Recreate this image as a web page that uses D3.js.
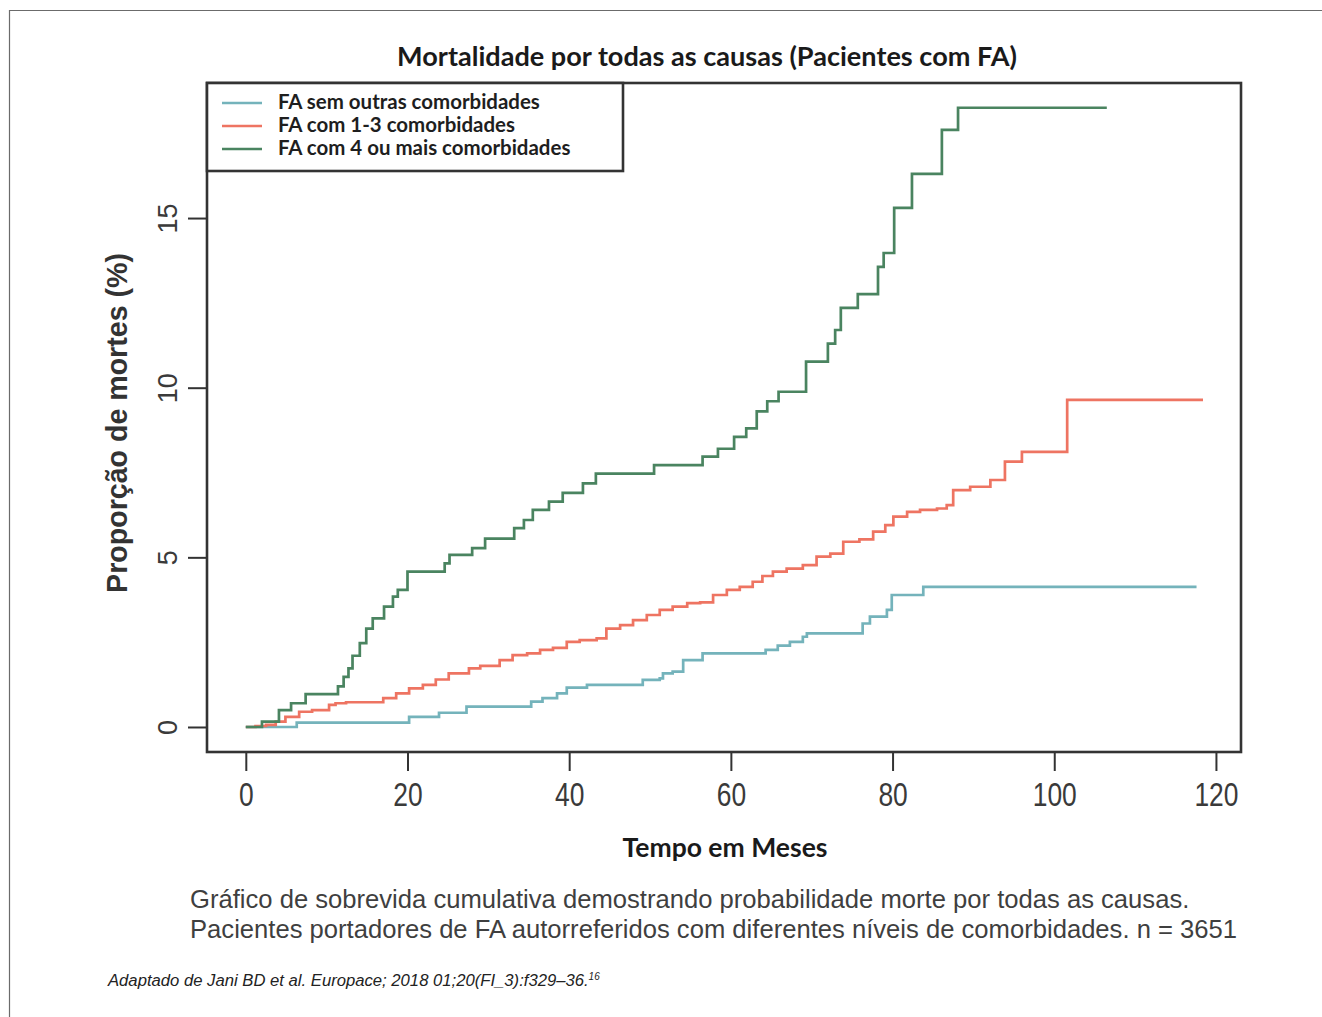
<!DOCTYPE html>
<html lang="pt">
<head>
<meta charset="UTF-8">
<title>Mortalidade por todas as causas</title>
<script src="https://d3js.org/d3.v7.min.js"></script>
<style>
  body { margin: 0; background: #fff; }
  svg { display: block; }
</style>
</head>
<body>
<svg id="chart"></svg>
<script>
  // tick values
  const xTicks = [0, 20, 40, 60, 80, 100, 120];
  const yTicks = [0, 5, 10, 15];

  // legend / series names
  const seriesNames = ["FA sem outras comorbidades", "FA com 1-3 comorbidades", "FA com 4 ou mais comorbidades"];

  // cumulative deaths (%), step function: value holds from that month on
  const blueTime  = [0, 6.3, 20.2, 23.9, 27.3, 35.3, 36.7, 38.5, 39.7, 42.2, 49.1, 51.2, 51.6, 52.8, 54.1, 56.5, 64.3, 65.8, 67.3, 68.9, 69.4, 76.3, 77.2, 79.3, 79.9, 83.8, 117.6];
  const blueValue = [0, 0.13, 0.3, 0.42, 0.6, 0.75, 0.85, 0.99, 1.16, 1.24, 1.39, 1.43, 1.58, 1.63, 1.97, 2.17, 2.27, 2.4, 2.51, 2.66, 2.76, 3.05, 3.25, 3.45, 3.89, 4.13, 4.13];

  const redTime  = [0, 1.2, 2.5, 3.7, 4.9, 6.6, 8.2, 10.3, 11.1, 12.4, 17.0, 18.6, 20.2, 21.9, 23.5, 25.1, 27.6, 29.0, 31.4, 33.0, 34.8, 36.4, 38.0, 39.7, 41.3, 43.4, 44.6, 46.3, 47.9, 49.6, 51.2, 52.8, 54.6, 56.2, 57.8, 59.5, 61.1, 62.7, 63.9, 65.2, 66.9, 68.9, 70.6, 72.3, 73.9, 75.9, 77.6, 79.1, 80.1, 81.8, 83.4, 85.5, 86.7, 87.5, 89.6, 92.1, 93.9, 96.0, 101.6, 118.4];
  const redValue = [0, 0.03, 0.06, 0.16, 0.3, 0.45, 0.5, 0.65, 0.7, 0.73, 0.85, 0.99, 1.14, 1.24, 1.4, 1.58, 1.73, 1.8, 1.97, 2.12, 2.17, 2.27, 2.33, 2.51, 2.56, 2.61, 2.9, 3.0, 3.15, 3.3, 3.45, 3.55, 3.65, 3.67, 3.89, 4.04, 4.13, 4.28, 4.45, 4.58, 4.67, 4.77, 5.02, 5.11, 5.46, 5.53, 5.76, 5.95, 6.2, 6.34, 6.4, 6.44, 6.54, 6.98, 7.08, 7.28, 7.82, 8.11, 9.64, 9.64];

  const greenTime  = [0, 2.0, 4.1, 5.6, 7.4, 11.4, 12.1, 12.7, 13.2, 14.1, 14.9, 15.7, 17.1, 18.2, 18.8, 20.0, 24.6, 25.2, 28.0, 29.6, 33.2, 34.4, 35.5, 37.5, 39.2, 41.7, 43.3, 50.5, 56.5, 58.4, 60.4, 61.9, 63.2, 64.5, 65.9, 69.3, 72.0, 72.9, 73.6, 75.7, 78.2, 78.9, 80.2, 82.4, 86.1, 88.1, 106.5];
  const greenValue = [0, 0.16, 0.5, 0.7, 0.97, 1.2, 1.48, 1.73, 2.1, 2.47, 2.9, 3.2, 3.55, 3.84, 4.04, 4.58, 4.82, 5.07, 5.27, 5.55, 5.86, 6.1, 6.4, 6.64, 6.9, 7.18, 7.47, 7.72, 7.97, 8.2, 8.55, 8.8, 9.3, 9.6, 9.88, 10.77, 11.3, 11.7, 12.35, 12.76, 13.56, 13.97, 15.3, 16.3, 17.6, 18.25, 18.25];

  const colors = ["#74b3bb", "#ee7462", "#4a8460"];

  const W = 1322, H = 1017;
  const box = { left: 207, right: 1241, top: 83, bottom: 752 };

  const svg = d3.select("#chart").attr("width", W).attr("height", H);
  svg.append("rect").attr("width", W).attr("height", H).attr("fill", "#fff");

  // page frame (top + left only)
  svg.append("path")
    .attr("d", `M9.5,${H} V10.5 H${W}`)
    .attr("fill", "none").attr("stroke", "#6b6b6b").attr("stroke-width", 1.2);

  // resize text so it spans a given width
  function fit(sel, w) {
    const len = sel.node().getComputedTextLength();
    const fs = parseFloat(sel.attr("font-size"));
    sel.attr("font-size", (fs * w / len).toFixed(2));
    return sel;
  }

  const x = d3.scaleLinear().domain([-4.8, 123.1]).range([box.left, box.right]);
  const y = d3.scaleLinear().domain([-0.737, 18.98]).range([box.bottom, box.top]);

  // lines
  const line = d3.line()
    .x(d => x(d[0]))
    .y(d => y(d[1]))
    .curve(d3.curveStepAfter);

  const series = [
    d3.zip(blueTime, blueValue),
    d3.zip(redTime, redValue),
    d3.zip(greenTime, greenValue)
  ];

  svg.append("g").selectAll("path")
    .data(series)
    .join("path")
    .attr("d", line)
    .attr("fill", "none")
    .attr("stroke", (d, i) => colors[i])
    .attr("stroke-width", 2.7);

  // x axis (labels squeezed horizontally, like the narrow face in the original)
  const xAxis = svg.append("g")
    .attr("transform", `translate(0,${box.bottom})`)
    .call(d3.axisBottom(x).tickValues(xTicks).tickSize(19).tickPadding(12));
  xAxis.select(".domain").remove();
  xAxis.selectAll("line").attr("stroke", "#333").attr("stroke-width", 2);
  xAxis.selectAll("text")
    .attr("transform", "scale(0.8,1)")
    .attr("font-family", "'Liberation Sans', Arial, sans-serif")
    .attr("font-size", 33)
    .attr("fill", "#3a3a3a");

  // y axis, labels rotated like R's base graphics
  const yAxis = svg.append("g")
    .attr("transform", `translate(${box.left},0)`)
    .call(d3.axisLeft(y).tickValues(yTicks).tickSize(19));
  yAxis.select(".domain").remove();
  yAxis.selectAll("line").attr("stroke", "#333").attr("stroke-width", 2);
  yAxis.selectAll("text")
    .attr("transform", "rotate(-90)")
    .attr("x", 0).attr("y", -30).attr("dy", 0)
    .attr("text-anchor", "middle")
    .attr("font-family", "'Liberation Sans', Arial, sans-serif")
    .attr("font-size", 27)
    .attr("fill", "#3a3a3a");

  // plot box
  svg.append("rect")
    .attr("x", box.left).attr("y", box.top)
    .attr("width", box.right - box.left).attr("height", box.bottom - box.top)
    .attr("fill", "none").attr("stroke", "#333").attr("stroke-width", 2.6);

  // legend
  const leg = svg.append("g");
  leg.append("rect")
    .attr("x", box.left).attr("y", box.top)
    .attr("width", 416).attr("height", 88)
    .attr("fill", "#fff").attr("stroke", "#333").attr("stroke-width", 2.6);
  seriesNames.forEach((name, i) => {
    const cy = 103 + i * 23;
    leg.append("line")
      .attr("x1", 222).attr("x2", 262).attr("y1", cy).attr("y2", cy)
      .attr("stroke", colors[i]).attr("stroke-width", 2.6);
    const t = leg.append("text")
      .attr("x", 278).attr("y", cy + 6)
      .attr("font-family", "Lato, 'Open Sans', sans-serif")
      .attr("font-weight", 700)
      .attr("font-size", 18)
      .attr("fill", "#1e1e1e")
      .text(name);
    if (i === 0) fit(t, 262);
    else t.attr("font-size", leg.select("text").attr("font-size"));
  });

  // title
  fit(svg.append("text")
    .attr("x", 707).attr("y", 66)
    .attr("text-anchor", "middle")
    .attr("font-family", "Lato, 'Open Sans', sans-serif")
    .attr("font-weight", 700)
    .attr("font-size", 24)
    .attr("fill", "#1a1a1a")
    .text("Mortalidade por todas as causas (Pacientes com FA)"), 620);

  // axis titles
  fit(svg.append("text")
    .attr("x", 725).attr("y", 857)
    .attr("text-anchor", "middle")
    .attr("font-family", "Lato, 'Open Sans', sans-serif")
    .attr("font-weight", 700)
    .attr("font-size", 24)
    .attr("fill", "#1a1a1a")
    .text("Tempo em Meses"), 205);

  fit(svg.append("text")
    .attr("transform", "translate(127,423) rotate(-90)")
    .attr("text-anchor", "middle")
    .attr("font-family", "'Liberation Sans', Arial, sans-serif")
    .attr("font-weight", 700)
    .attr("font-size", 26)
    .attr("fill", "#333")
    .text("Proporção de mortes (%)"), 340);

  // caption below the chart
  const cap = ["Gráfico de sobrevida cumulativa demostrando probabilidade morte por todas as causas.",
               "Pacientes portadores de FA autorreferidos com diferentes níveis de comorbidades. n = 3651"];
  const c2 = fit(svg.append("text")
    .attr("x", 190).attr("y", 938)
    .attr("font-family", "'Liberation Sans', Arial, sans-serif")
    .attr("font-size", 22)
    .attr("fill", "#3f3f3f")
    .text(cap[1]), 1047);
  svg.append("text")
    .attr("x", 190).attr("y", 908)
    .attr("font-family", "'Liberation Sans', Arial, sans-serif")
    .attr("font-size", c2.attr("font-size"))
    .attr("fill", "#3f3f3f")
    .text(cap[0]);

  // source note
  const src = svg.append("text")
    .attr("x", 108).attr("y", 986)
    .attr("font-family", "'Liberation Sans', Arial, sans-serif")
    .attr("font-style", "italic")
    .attr("font-size", 15)
    .attr("fill", "#222");
  const srcMain = src.append("tspan").text("Adaptado de Jani BD et al. Europace; 2018 01;20(FI_3):f329–36.");
  src.append("tspan").attr("font-size", 9).attr("dy", -6).text("16");
  // widen to the original extent (about 108 → 600 px)
  const k = 492 / src.node().getComputedTextLength();
  src.attr("font-size", (15 * k).toFixed(2));
  src.select("tspan:last-child").attr("font-size", (9 * k).toFixed(2));
</script>
</body>
</html>
